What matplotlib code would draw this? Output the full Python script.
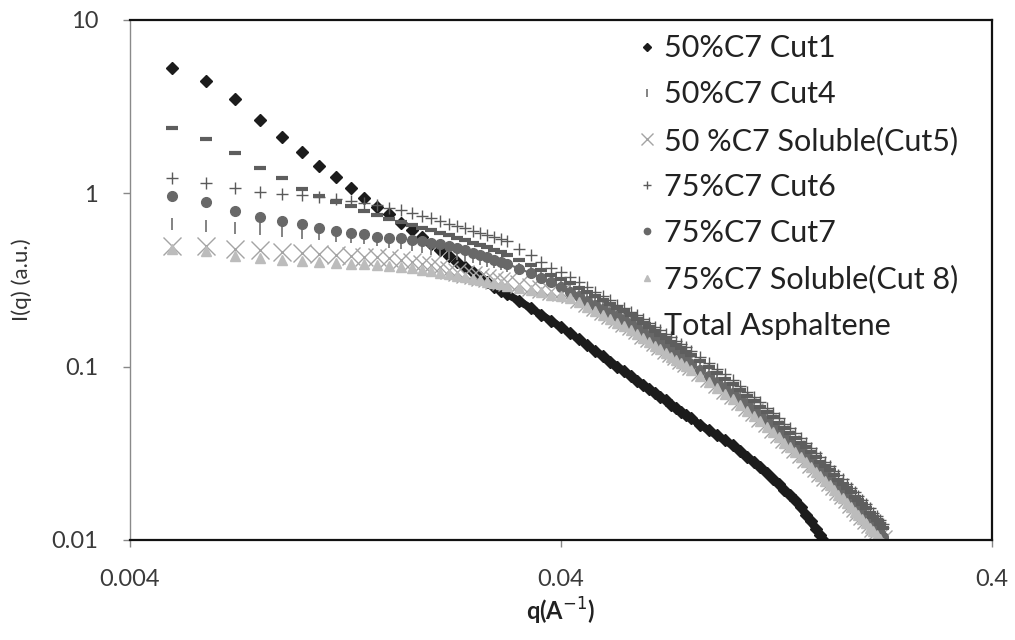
import matplotlib
matplotlib.use("Agg")
import matplotlib.pyplot as plt
from matplotlib.ticker import NullLocator

plt.rcParams['font.family'] = ['Lato', 'DejaVu Sans']

# scattering vector q (1/A)
q = [0.005, 0.006, 0.007, 0.008, 0.009, 0.010, 0.011, 0.012, 0.013, 0.014,
     0.015, 0.016, 0.017, 0.018, 0.019, 0.020, 0.021, 0.022, 0.023, 0.024,
     0.025, 0.026, 0.027, 0.028, 0.029, 0.030,
     0.032, 0.034, 0.036, 0.038, 0.040, 0.042, 0.044, 0.046, 0.048, 0.050,
     0.052, 0.054, 0.056, 0.058, 0.060, 0.062, 0.064, 0.066, 0.068, 0.070,
     0.072, 0.074, 0.076, 0.078, 0.080,
     0.084, 0.088, 0.092, 0.096, 0.100, 0.104, 0.108, 0.112, 0.116, 0.120,
     0.124, 0.128, 0.132, 0.136, 0.140, 0.144, 0.148, 0.152, 0.156, 0.160,
     0.164, 0.168, 0.172, 0.176, 0.180, 0.184, 0.188, 0.192, 0.196, 0.200,
     0.204, 0.208, 0.212, 0.216, 0.220, 0.224]

cut1 = [5.28, 4.46, 3.49, 2.65, 2.12, 1.73, 1.44, 1.25, 1.08, 0.944,
        0.836, 0.758, 0.675, 0.612, 0.558, 0.513, 0.472, 0.436, 0.404, 0.376,
        0.351, 0.328, 0.308, 0.290, 0.275, 0.262,
        0.239, 0.218, 0.199, 0.183, 0.169, 0.156, 0.144, 0.133, 0.123, 0.115,
        0.107, 0.100, 0.094, 0.088, 0.0832, 0.0785, 0.0743, 0.0703, 0.0667, 0.0638,
        0.0604, 0.0577, 0.0551, 0.0526, 0.0504,
        0.0463, 0.0430, 0.0402, 0.0376, 0.0352, 0.0326, 0.0303, 0.0282, 0.0264, 0.0245,
        0.0226, 0.0210, 0.0195, 0.0182, 0.0169, 0.0154, 0.0140, 0.0128, 0.0116, 0.0107,
        0.0098]

cut4 = [0.662, 0.647, 0.634, 0.619, 0.606, 0.594, 0.582, 0.571, 0.56, 0.549,
        0.538, 0.527, 0.515, 0.503, 0.491, 0.480, 0.469, 0.458, 0.448, 0.437,
        0.427, 0.418, 0.408, 0.399, 0.389, 0.380,
        0.364, 0.348, 0.333, 0.318, 0.301, 0.2831, 0.2663, 0.2513, 0.2378, 0.2255,
        0.2143, 0.2041, 0.1946, 0.1858, 0.1754, 0.1661, 0.1576, 0.1498, 0.1427, 0.1360,
        0.1299, 0.1241, 0.1188, 0.1138, 0.1091,
        0.1005, 0.0926, 0.0857, 0.0795, 0.0739, 0.0683, 0.0633, 0.0589, 0.0549, 0.0511,
        0.0476, 0.0444, 0.0414, 0.0388, 0.0364, 0.0340, 0.0319, 0.0299, 0.0281, 0.0264,
        0.0249, 0.0235, 0.0221, 0.0208, 0.0197, 0.0186, 0.0176, 0.0166, 0.0158, 0.0150,
        0.0142, 0.0134, 0.0127, 0.0121, 0.0115, 0.0109]

cut5 = [0.50, 0.497, 0.48, 0.47, 0.46, 0.455, 0.447, 0.44, 0.433, 0.43,
        0.427, 0.423, 0.412, 0.40, 0.392, 0.385, 0.375, 0.362, 0.350, 0.343,
        0.336, 0.330, 0.324, 0.318, 0.312, 0.307,
        0.298, 0.290, 0.282, 0.275, 0.268, 0.2613, 0.2458, 0.2319, 0.2195, 0.2081,
        0.1978, 0.1884, 0.1796, 0.1715, 0.1619, 0.1533, 0.1455, 0.1383, 0.1317, 0.1255,
        0.1199, 0.1145, 0.1097, 0.1050, 0.1007,
        0.0928, 0.0855, 0.0791, 0.0734, 0.0682, 0.0630, 0.0584, 0.0544, 0.0507, 0.0472,
        0.0439, 0.0410, 0.0382, 0.0358, 0.0336, 0.0314, 0.0294, 0.0276, 0.0259, 0.0244,
        0.0230, 0.0217, 0.0204, 0.0192, 0.0182, 0.0172, 0.0162, 0.0153, 0.0146, 0.0138,
        0.0131, 0.0124, 0.0117, 0.0112, 0.0106, 0.0101]

cut6 = [1.23, 1.14, 1.08, 1.02, 0.995, 0.973, 0.95, 0.923, 0.90, 0.88,
        0.855, 0.826, 0.80, 0.771, 0.742, 0.717, 0.692, 0.667, 0.65, 0.633,
        0.61, 0.59, 0.576, 0.56, 0.547, 0.532,
        0.477, 0.44, 0.40, 0.372, 0.352, 0.328, 0.307, 0.288, 0.271, 0.255,
        0.241, 0.228, 0.217, 0.206, 0.198, 0.1885, 0.1789, 0.1700, 0.1620, 0.1544,
        0.1474, 0.1409, 0.1348, 0.1292, 0.1238,
        0.1141, 0.1051, 0.0973, 0.0902, 0.0839, 0.0775, 0.0718, 0.0669, 0.0623, 0.0580,
        0.0540, 0.0504, 0.0470, 0.0440, 0.0413, 0.0386, 0.0362, 0.0339, 0.0319, 0.0300,
        0.0283, 0.0267, 0.0251, 0.0236, 0.0224, 0.0211, 0.0200, 0.0188, 0.0179, 0.0170,
        0.0161, 0.0152, 0.0144, 0.0137, 0.0131, 0.0124]

cut7 = [0.964, 0.89, 0.79, 0.73, 0.692, 0.665, 0.63, 0.605, 0.592, 0.58,
        0.562, 0.556, 0.549, 0.54, 0.53, 0.52, 0.508, 0.495, 0.482, 0.468,
        0.455, 0.441, 0.428, 0.415, 0.403, 0.391,
        0.368, 0.346, 0.326, 0.306, 0.288, 0.2704, 0.2543, 0.2400, 0.2271, 0.2154,
        0.2047, 0.1949, 0.1858, 0.1774, 0.1675, 0.1586, 0.1505, 0.1431, 0.1363, 0.1299,
        0.1241, 0.1185, 0.1135, 0.1087, 0.1042,
        0.0960, 0.0884, 0.0818, 0.0759, 0.0706, 0.0652, 0.0605, 0.0562, 0.0524, 0.0488,
        0.0455, 0.0424, 0.0395, 0.0371, 0.0348, 0.0325, 0.0305, 0.0286, 0.0268, 0.0252,
        0.0238, 0.0224, 0.0211, 0.0199, 0.0188, 0.0178, 0.0168, 0.0159, 0.0151, 0.0143,
        0.0136, 0.0128, 0.0121, 0.0116, 0.0110, 0.0104]

cut8 = [0.479, 0.464, 0.434, 0.425, 0.412, 0.406, 0.403, 0.398, 0.393, 0.389,
        0.385, 0.38, 0.375, 0.37, 0.362, 0.355, 0.348, 0.341, 0.334, 0.327,
        0.321, 0.315, 0.309, 0.303, 0.298, 0.293,
        0.284, 0.276, 0.268, 0.260, 0.255, 0.2494, 0.2346, 0.2214, 0.2095, 0.1987,
        0.1888, 0.1798, 0.1714, 0.1637, 0.1545, 0.1463, 0.1388, 0.1320, 0.1257, 0.1198,
        0.1144, 0.1093, 0.1047, 0.1003, 0.0961,
        0.0885, 0.0816, 0.0755, 0.0700, 0.0651, 0.0602, 0.0558, 0.0519, 0.0484, 0.0450,
        0.0419, 0.0391, 0.0365, 0.0342, 0.0321, 0.0300, 0.0281, 0.0263, 0.0248, 0.0233,
        0.0219, 0.0207, 0.0195, 0.0183, 0.0174, 0.0164, 0.0155, 0.0146, 0.0139, 0.0132,
        0.0125, 0.0118, 0.0112, 0.0107, 0.0101, 0.0096]

total = [2.38, 2.05, 1.70, 1.40, 1.22, 1.06, 0.96, 0.895, 0.845, 0.79,
         0.746, 0.71, 0.683, 0.658, 0.635, 0.613, 0.592, 0.572, 0.553, 0.535,
         0.518, 0.502, 0.487, 0.472, 0.457, 0.443,
         0.414, 0.387, 0.362, 0.340, 0.321, 0.3035, 0.2855, 0.2694, 0.2549, 0.2417,
         0.2297, 0.2188, 0.2086, 0.1992, 0.1880, 0.1781, 0.1690, 0.1606, 0.1530, 0.1458,
         0.1393, 0.1330, 0.1274, 0.1220, 0.1170,
         0.1077, 0.0993, 0.0919, 0.0852, 0.0792, 0.0732, 0.0679, 0.0631, 0.0589, 0.0548,
         0.0510, 0.0476, 0.0444, 0.0416, 0.0390, 0.0364, 0.0342, 0.0321, 0.0301, 0.0283,
         0.0267, 0.0252, 0.0237, 0.0223, 0.0211, 0.0199, 0.0189, 0.0178, 0.0169, 0.0161,
         0.0152, 0.0144, 0.0136, 0.0130, 0.0123, 0.0117]

labels = ['50%C7 Cut1', '50%C7 Cut4', '50 %C7 Soluble(Cut5)', '75%C7 Cut6',
          '75%C7 Cut7', '75%C7 Soluble(Cut 8)', 'Total Asphaltene']
series = [cut1, cut4, cut5, cut6, cut7, cut8, total]

# marker, size, colour, edge width
styles = [('D', 6.5, '#1c1c1c', 1.0),
          ('|', 8, '#7a7a7a', 1.3),
          ('x', 13, '#a4a4a4', 1.0),
          ('+', 9, '#5a5a5a', 1.0),
          ('o', 7, '#686868', 1.0),
          ('^', 6.5, '#bcbcbc', 1.0),
          ('_', 8, '#5e5e5e', 3.0)]
# trace drawn where the points crowd into a continuous band (q >= 0.03)
trace_lw = [5.5, 0, 0, 0, 1.5, 0, 0]

fig = plt.figure(figsize=(10.15, 6.4), dpi=100)
ax = fig.add_axes([130 / 1015, 100 / 640, 862 / 1015, 520 / 640])

for lab, vals, (mk, ms, col, mew), lw in zip(labels, series, styles, trace_lw):
    qs = q[:len(vals)]
    if lw:
        dense = [i for i, x in enumerate(qs) if x >= 0.03]
        ax.plot([qs[i] for i in dense], [vals[i] for i in dense], '-',
                color=col, lw=lw, solid_capstyle='round')
    ax.plot(qs, vals, linestyle='none', marker=mk, markersize=ms, color=col,
            markeredgecolor=col, markeredgewidth=mew, label=lab)

ax.set_xscale('log')
ax.set_yscale('log')
ax.set_xlim(0.004, 0.4)
ax.set_ylim(0.01, 10)
ax.xaxis.set_minor_locator(NullLocator())
ax.yaxis.set_minor_locator(NullLocator())
ax.set_xticks([0.004, 0.04, 0.4])
ax.set_xticklabels(['0.004', '0.04', '0.4'])
ax.set_yticks([0.01, 0.1, 1, 10])
ax.set_yticklabels(['0.01', '0.1', '1', '10'])
ax.tick_params(axis='both', which='major', length=5, width=1, color='#888888',
               labelsize=17, labelcolor='#3a3a3a')
ax.tick_params(axis='x', pad=16)
ax.tick_params(axis='y', pad=18)

for side in ['top', 'right', 'bottom']:
    ax.spines[side].set_color('#111111')
    ax.spines[side].set_linewidth(1.6)
ax.spines['left'].set_color('#8a8a8a')
ax.spines['left'].set_linewidth(1.0)

ax.set_xlabel('q(A$^{-1}$)', fontsize=17, fontweight='bold', color='#222222',
              labelpad=4)
ax.set_ylabel('I(q) (a.u.)', fontsize=16, color='#333333', labelpad=14)

leg = ax.legend(loc='upper left', bbox_to_anchor=(0.573, 1.002), frameon=False,
                fontsize=22, labelspacing=0.59, handlelength=0.5,
                handletextpad=0.3, borderpad=0, markerscale=0.65)
for t in leg.get_texts():
    t.set_color('#222222')

fig.savefig('out.png', dpi=100)
